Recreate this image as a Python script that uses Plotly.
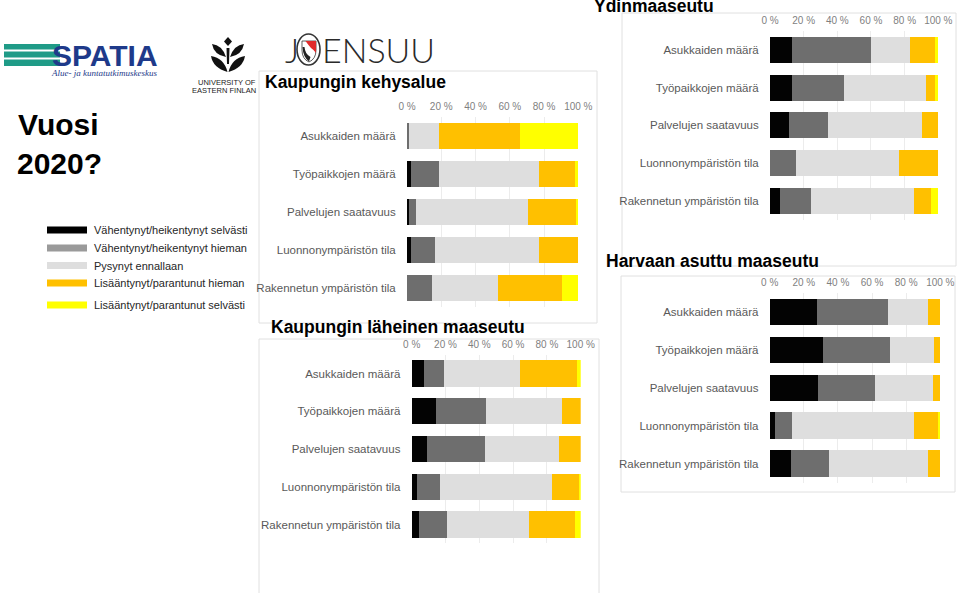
import plotly.graph_objects as go

W, H = 960, 593

# ---------------- data ----------------
categories = ["Asukkaiden määrä", "Työpaikkojen määrä", "Palvelujen saatavuus",
              "Luonnonympäristön tila", "Rakennetun ympäristön tila"]
series_names = ["Vähentynyt/heikentynyt selvästi", "Vähentynyt/heikentynyt hieman",
                "Pysynyt ennallaan", "Lisääntynyt/parantunut hieman",
                "Lisääntynyt/parantunut selvästi"]
tick_values = [0, 20, 40, 60, 80, 100]
tick_labels = ["0 %", "20 %", "40 %", "60 %", "80 %", "100 %"]

# Kaupungin kehysalue
kehys_selv_vah = [0, 2.3, 1.0, 2.3, 0]
kehys_hiem_vah = [1.0, 16.6, 4.0, 14.3, 14.8]
kehys_ennallaan = [17.9, 58.3, 65.4, 60.6, 38.4]
kehys_hiem_lis = [47.1, 20.7, 28.4, 22.8, 37.0]
kehys_selv_lis = [34.0, 2.1, 1.2, 0, 9.8]

# Kaupungin läheinen maaseutu
lahei_selv_vah = [7.3, 14.4, 9.3, 3.4, 4.5]
lahei_hiem_vah = [12.0, 29.4, 33.9, 13.6, 16.2]
lahei_ennallaan = [44.8, 45.4, 43.8, 66.0, 48.7]
lahei_hiem_lis = [33.7, 10.8, 13.0, 16.0, 27.2]
lahei_selv_lis = [2.2, 0, 0, 1.0, 3.4]

# Ydinmaaseutu
ydin_selv_vah = [12.9, 13.3, 11.3, 0, 5.9]
ydin_hiem_vah = [47.3, 30.9, 23.4, 15.4, 18.3]
ydin_ennallaan = [22.8, 48.3, 55.8, 61.1, 61.5]
ydin_hiem_lis = [15.2, 5.7, 9.5, 23.5, 10.1]
ydin_selv_lis = [1.8, 1.8, 0, 0, 4.2]

# Harvaan asuttu maaseutu
harva_selv_vah = [27.5, 31.2, 28.5, 3.3, 12.3]
harva_hiem_vah = [42.0, 39.5, 33.4, 10.0, 22.7]
harva_ennallaan = [23.3, 25.4, 33.8, 71.3, 57.8]
harva_hiem_lis = [7.2, 3.9, 4.3, 14.0, 7.2]
harva_selv_lis = [0, 0, 0, 1.4, 0]

# ---------------- styling ----------------
bar_colors = ["#030303", "#6e6e6e", "#dedede", "#ffc000", "#ffff00"]
legend_colors = ["#000000", "#9a9a9a", "#dedede", "#ffc000", "#ffff00"]
FONT = "Liberation Sans, Arial, sans-serif"


def X(px):
    return px / W


def Y(py):
    return 1 - py / H


panels = [
    dict(title="Kaupungin kehysalue",
         series=[kehys_selv_vah, kehys_hiem_vah, kehys_ennallaan, kehys_hiem_lis, kehys_selv_lis],
         plot=(407, 578.3, 117.4, 306.7), box=(259, 597, 71, 323), tpos=(263, 82)),
    dict(title="Kaupungin läheinen maaseutu",
         series=[lahei_selv_vah, lahei_hiem_vah, lahei_ennallaan, lahei_hiem_lis, lahei_selv_lis],
         plot=(411.7, 580.7, 354.6, 543.4), box=(259, 599, 339, 600), tpos=(269, 327)),
    dict(title="Ydinmaaseutu",
         series=[ydin_selv_vah, ydin_hiem_vah, ydin_ennallaan, ydin_hiem_lis, ydin_selv_lis],
         plot=(770, 938.3, 30.9, 219.7), box=(622, 956, 13, 266), tpos=(592, 6)),
    dict(title="Harvaan asuttu maaseutu",
         series=[harva_selv_vah, harva_hiem_vah, harva_ennallaan, harva_hiem_lis, harva_selv_lis],
         plot=(769.7, 940.3, 292.8, 482.5), box=(621, 955, 276, 492), tpos=(604, 261)),
]

fig = go.Figure()
layout = dict(
    width=W, height=H,
    margin=dict(l=0, r=0, t=0, b=0, pad=0, autoexpand=False),
    autosize=False,
    paper_bgcolor="white", plot_bgcolor="rgba(0,0,0,0)",
    barmode="stack", bargap=0.31, showlegend=False,
    font=dict(family=FONT),
)
shapes = []
annotations = []

for i, p in enumerate(panels, start=1):
    xa = "x" if i == 1 else f"x{i}"
    ya = "y" if i == 1 else f"y{i}"
    for s, vals in enumerate(p["series"]):
        fig.add_trace(go.Bar(
            x=vals, y=categories, orientation="h", name=series_names[s],
            marker=dict(color=bar_colors[s], line=dict(width=0)),
            xaxis=xa, yaxis=ya, hoverinfo="x+y+name",
        ))
    x0, x1, y0, y1 = p["plot"]
    layout["xaxis" if i == 1 else f"xaxis{i}"] = dict(
        domain=[X(x0), X(x1)], range=[0, 100], side="top", anchor=ya,
        tickvals=tick_values, ticktext=tick_labels,
        tickfont=dict(size=10, color="#7f7f7f", family=FONT),
        showgrid=True, gridcolor="#ececec", gridwidth=1,
        zeroline=False, showline=False, automargin=False,
        ticks="outside", ticklen=2, tickcolor="rgba(0,0,0,0)", fixedrange=True,
    )
    layout["yaxis" if i == 1 else f"yaxis{i}"] = dict(
        domain=[Y(y1), Y(y0)], anchor=xa, type="category",
        categoryorder="array", categoryarray=categories, autorange="reversed",
        tickfont=dict(size=11.5, color="#595959", family=FONT),
        showgrid=False, zeroline=False, showline=False, automargin=False,
        ticks="outside", ticklen=8, tickcolor="rgba(0,0,0,0)", fixedrange=True,
    )
    bx0, bx1, by0, by1 = p["box"]
    shapes.append(dict(type="rect", xref="paper", yref="paper", layer="below",
                       x0=X(bx0), x1=X(bx1), y0=Y(by1), y1=Y(by0),
                       line=dict(color="#e0e0e0", width=1), fillcolor="white"))
    tx, ty = p["tpos"]
    annotations.append(dict(text=f"<b>{p['title']}</b>", xref="paper", yref="paper",
                            x=X(tx), y=Y(ty), xanchor="left", yanchor="middle",
                            showarrow=False, font=dict(size=17.5, color="#000000", family=FONT)))

# ---------------- legend (manual) ----------------
legend_rows = [230, 248, 265.5, 283, 305]
for s, ly in enumerate(legend_rows):
    shapes.append(dict(type="rect", xref="paper", yref="paper",
                       x0=X(47), x1=X(87), y0=Y(ly + 3.5), y1=Y(ly - 3.5),
                       line=dict(width=0), fillcolor=legend_colors[s]))
    annotations.append(dict(text=series_names[s], xref="paper", yref="paper",
                            x=X(92), y=Y(ly), xanchor="left", yanchor="middle",
                            showarrow=False, font=dict(size=11, color="#262626", family=FONT)))

# ---------------- main title ----------------
annotations.append(dict(text="<b>Vuosi</b>", xref="paper", yref="paper", x=X(16), y=Y(124),
                        xanchor="left", yanchor="middle", showarrow=False,
                        font=dict(size=30, color="#000000", family=FONT)))
annotations.append(dict(text="<b>2020?</b>", xref="paper", yref="paper", x=X(15), y=Y(163),
                        xanchor="left", yanchor="middle", showarrow=False,
                        font=dict(size=30, color="#000000", family=FONT)))

# ---------------- SPATIA logo ----------------
teal = "#1f9b87"
navy = "#1e3a8a"
shapes.append(dict(type="rect", xref="paper", yref="paper", x0=X(4), x1=X(60),
                   y0=Y(66), y1=Y(44), line=dict(width=0), fillcolor=teal))
for wy in (50.5, 58.5):
    shapes.append(dict(type="rect", xref="paper", yref="paper", x0=X(4), x1=X(60),
                       y0=Y(wy + 1), y1=Y(wy - 1), line=dict(width=0), fillcolor="white"))
annotations.append(dict(text="<b>SPATIA</b>", xref="paper", yref="paper", x=X(50), y=Y(55.5),
                        xanchor="left", yanchor="middle", showarrow=False,
                        font=dict(size=30, color=navy, family=FONT)))
annotations.append(dict(text="<i>Alue- ja kuntatutkimuskeskus</i>", xref="paper", yref="paper",
                        x=X(49), y=Y(73), xanchor="left", yanchor="middle", showarrow=False,
                        font=dict(size=9, color=navy, family="Liberation Serif, serif")))


# ---------------- UEF logo ----------------
def path(pts_str):
    out = []
    for tok in pts_str.split():
        if "," in tok:
            a, b = tok.split(",")
            out.append(f"{X(float(a)):.5f},{Y(float(b)):.5f}")
        else:
            out.append(tok)
    return " ".join(out)


uef_paths = [
    "M 228,37 L 232,41.5 L 228,46 L 224,41.5 Z",
    "M 212,44 Q 222,45 226,57 Q 214,55 212,44 Z",
    "M 244,44 Q 234,45 230,57 Q 242,55 244,44 Z",
    "M 211,56 Q 224,58 227.5,72 Q 213,68 211,56 Z",
    "M 245,56 Q 232,58 228.5,72 Q 243,68 245,56 Z",
    "M 226.5,48 L 229.5,48 L 229,64 L 227,64 Z",
]
for pth in uef_paths:
    shapes.append(dict(type="path", xref="paper", yref="paper", path=path(pth),
                       fillcolor="#111111", line=dict(width=0)))
annotations.append(dict(text="UNIVERSITY OF", xref="paper", yref="paper", x=X(258), y=Y(82),
                        xanchor="right", yanchor="middle", showarrow=False,
                        font=dict(size=7.5, color="#222222", family=FONT)))
annotations.append(dict(text="EASTERN FINLAN", xref="paper", yref="paper", x=X(258), y=Y(90),
                        xanchor="right", yanchor="middle", showarrow=False,
                        font=dict(size=7.5, color="#222222", family=FONT)))

# ---------------- JOENSUU logo ----------------
JFONT = dict(size=34, color="#2a2a2a", family="Lato, Roboto, sans-serif", weight=300)
annotations.append(dict(text="J", xref="paper", yref="paper", x=X(283), y=Y(50),
                        xanchor="left", yanchor="middle", showarrow=False, font=JFONT))
annotations.append(dict(text="ENSUU", xref="paper", yref="paper", x=X(320), y=Y(50),
                        xanchor="left", yanchor="middle", showarrow=False, font=JFONT))
shapes.append(dict(type="circle", xref="paper", yref="paper", x0=X(297), x1=X(320),
                   y0=Y(65), y1=Y(34), line=dict(color="#333333", width=1.6), fillcolor="white"))
shapes.append(dict(type="path", xref="paper", yref="paper",
                   path=path("M 302,41 L 316,41 L 316,50 Q 316,59 309,62 Q 302,59 302,50 Z"),
                   fillcolor="white", line=dict(color="#333333", width=0.8)))
shapes.append(dict(type="path", xref="paper", yref="paper",
                   path=path("M 305.5,41 L 316,41 L 316,53 L 313.5,50 L 311,48 L 308.5,45 Z"),
                   fillcolor="#e02b2b", line=dict(width=0)))
shapes.append(dict(type="path", xref="paper", yref="paper",
                   path=path("M 302.5,47 Q 303,57 309,61.5 L 310.5,57 Q 305,54 304.5,47 Z"),
                   fillcolor="#222222", line=dict(width=0)))

layout["shapes"] = shapes
layout["annotations"] = annotations
fig.update_layout(**layout)
fig.write_html("out.html", config={"displayModeBar": False},
               post_script="document.body.style.margin='0';document.body.style.overflow='hidden';")
